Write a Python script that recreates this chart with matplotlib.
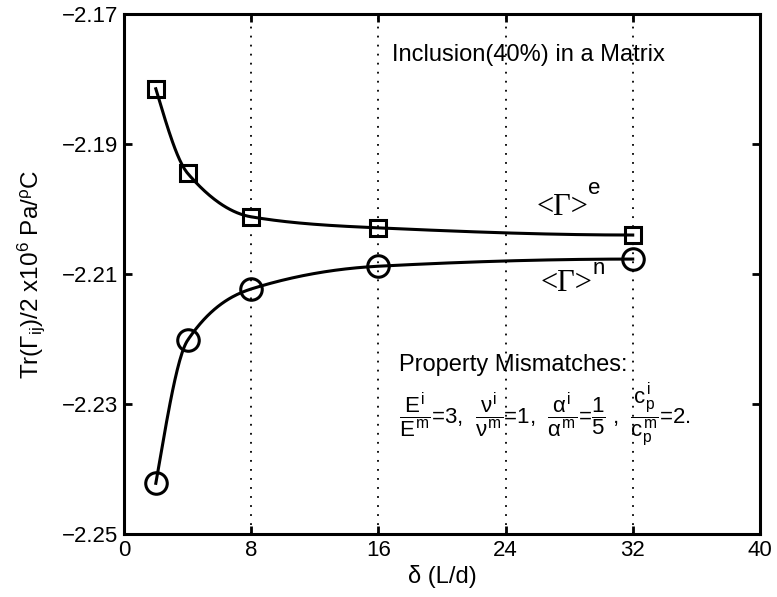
#!/usr/bin/env python3
"""Traza de Tr(Gamma_ij)/2 frente a delta para inclusion al 40% en una matriz."""

import numpy as np
import matplotlib
matplotlib.use("Agg")
import matplotlib.pyplot as plt

plt.rcParams["font.family"] = ["Liberation Sans", "DejaVu Sans"]
plt.rcParams["mathtext.fontset"] = "custom"
plt.rcParams["mathtext.rm"] = "Liberation Sans"
plt.rcParams["mathtext.it"] = "Liberation Sans"
plt.rcParams["mathtext.bf"] = "Liberation Sans:bold"

# datos
delta = [2, 4, 8, 16, 32]
gamma_e = [-2.1815, -2.1945, -2.2012, -2.2029, -2.2040]
gamma_n = [-2.2422, -2.2202, -2.2123, -2.2088, -2.2077]
xticks = [0, 8, 16, 24, 32, 40]
yticks = [-2.25, -2.23, -2.21, -2.19, -2.17]


def _pchip(x, y, xs):
    """Interpolacion cubica monotona (solo para dibujar la curva suave)."""
    x = np.asarray(x, float)
    y = np.asarray(y, float)
    h = np.diff(x)
    d = np.diff(y) / h
    m = np.zeros_like(y)
    for k in range(1, len(x) - 1):
        if d[k - 1] * d[k] > 0:
            w1 = 2 * h[k] + h[k - 1]
            w2 = h[k] + 2 * h[k - 1]
            m[k] = (w1 + w2) / (w1 / d[k - 1] + w2 / d[k])
    m[0] = ((2 * h[0] + h[1]) * d[0] - h[0] * d[1]) / (h[0] + h[1])
    if m[0] * d[0] <= 0:
        m[0] = 0
    m[-1] = ((2 * h[-1] + h[-2]) * d[-1] - h[-1] * d[-2]) / (h[-1] + h[-2])
    if m[-1] * d[-1] <= 0:
        m[-1] = 0
    idx = np.clip(np.searchsorted(x, xs) - 1, 0, len(x) - 2)
    t = (xs - x[idx]) / h[idx]
    h00 = 2 * t**3 - 3 * t**2 + 1
    h10 = t**3 - 2 * t**2 + t
    h01 = -2 * t**3 + 3 * t**2
    h11 = t**3 - t**2
    return h00 * y[idx] + h10 * h[idx] * m[idx] + h01 * y[idx + 1] + h11 * h[idx] * m[idx + 1]


fig = plt.figure(figsize=(7.77, 5.97), dpi=100)
ax = fig.add_axes([0.1596, 0.1055, 0.8184, 0.871])

xs = np.linspace(delta[0], delta[-1], 400)
for vals, marker, ms in [(gamma_e, "s", 11), (gamma_n, "o", 15.5)]:
    ax.plot(xs, _pchip(delta, vals, xs), color="black", lw=2.2)
    ax.plot(delta, vals, linestyle="none", marker=marker, ms=ms,
            mfc="none", mec="black", mew=2.2)

ax.set_xlim(0, 40)
ax.set_ylim(-2.25, -2.17)
ax.set_xticks(xticks)
ax.set_yticks(yticks)
ax.set_yticklabels([f"\u2212{abs(v):.2f}" for v in yticks])
ax.tick_params(direction="in", top=True, right=True, labelsize=16,
               width=2, length=6, pad=4)
for sp in ax.spines.values():
    sp.set_linewidth(2.2)
ax.xaxis.grid(True, linestyle=(0, (1, 4)), color="black", lw=1.3)

ax.set_xlabel("\u03b4 (L/d)", fontsize=17, labelpad=3)
ax.set_ylabel(r"Tr($\Gamma_{\rm ij}$)/2 x10$^{6}$ Pa/$^{\rho}$C", fontsize=17.5, labelpad=11)

ax.text(16.85, -2.1763, "Inclusion(40%) in a Matrix", fontsize=17, va="center")

serif = ["Liberation Serif", "DejaVu Serif"]
ax.text(25.95, -2.1997, "<\u0393>", family=serif, fontsize=22, va="center")
ax.text(29.2, -2.1969, "e", fontsize=16, va="center")
ax.text(26.2, -2.2114, "<\u0393>", family=serif, fontsize=22, va="center")
ax.text(29.45, -2.2092, "n", fontsize=16, va="center")

ax.text(17.3, -2.2240, "Property Mismatches:", fontsize=17, va="center")
ax.text(17.3, -2.2328,
        r"$\dfrac{E^{i}}{E^{m}}$=3,  $\dfrac{\nu^{i}}{\nu^{m}}$=1,  "
        r"$\dfrac{\alpha^{i}}{\alpha^{m}}$=$\dfrac{1}{5}$ ,  "
        r"$\dfrac{c^{i}_{p}}{c^{m}_{p}}$=2.",
        fontsize=16, va="baseline")

fig.savefig("out.png", dpi=100)
